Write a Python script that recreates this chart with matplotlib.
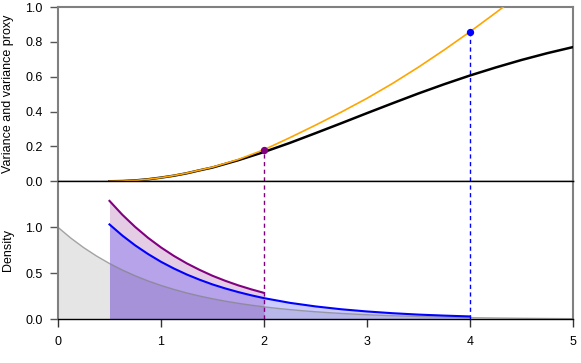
import numpy as np
import matplotlib.pyplot as plt

plt.rcParams['font.family'] = ['Liberation Sans', 'DejaVu Sans']

# upper truncation point (lower bound fixed at 0.5)
b_grid = [0.5, 0.625, 0.75, 0.875, 1.0, 1.125, 1.25, 1.375, 1.5, 1.75, 2.0, 2.25,
          2.5, 2.75, 3.0, 3.25, 3.5, 3.75, 4.0, 4.25, 4.5, 4.75, 5.0]
variance = [0.0, 0.0013, 0.005, 0.0116, 0.021, 0.032, 0.046, 0.063, 0.079, 0.121,
            0.168, 0.220, 0.276, 0.333, 0.391, 0.448, 0.504, 0.557, 0.607, 0.653,
            0.696, 0.735, 0.770]
proxy = [0.0, 0.0013, 0.005, 0.0117, 0.021, 0.033, 0.047, 0.064, 0.081, 0.125,
         0.181, 0.250, 0.322, 0.397, 0.476, 0.562, 0.655, 0.754, 0.858, 0.967,
         1.080, None, None]

# densities
x_full = [0.0, 0.125, 0.25, 0.375, 0.5, 0.625, 0.75, 0.875, 1.0, 1.125, 1.25,
          1.375, 1.5, 1.625, 1.75, 1.875, 2.0, 2.125, 2.25, 2.375, 2.5, 2.625,
          2.75, 2.875, 3.0, 3.25, 3.5, 3.75, 4.0, 4.25, 4.5, 4.75, 5.0]
dens_full = [1.0, 0.8825, 0.7788, 0.6873, 0.6065, 0.5353, 0.4724, 0.4169, 0.3679,
             0.3247, 0.2865, 0.2528, 0.2231, 0.1969, 0.1738, 0.1534, 0.1353,
             0.1194, 0.1054, 0.0930, 0.0821, 0.0724, 0.0639, 0.0564, 0.0498,
             0.0388, 0.0302, 0.0235, 0.0183, 0.0143, 0.0111, 0.0087, 0.0067]
x_purple = [0.5, 0.625, 0.75, 0.875, 1.0, 1.125, 1.25, 1.375, 1.5, 1.625, 1.75,
            1.875, 2.0]
dens_purple = [1.287, 1.136, 1.003, 0.885, 0.781, 0.689, 0.608, 0.537, 0.473,
               0.418, 0.369, 0.326, 0.287]
x_blue = [0.5, 0.625, 0.75, 0.875, 1.0, 1.125, 1.25, 1.375, 1.5, 1.625, 1.75,
          1.875, 2.0, 2.25, 2.5, 2.75, 3.0, 3.25, 3.5, 3.75, 4.0]
dens_blue = [1.031, 0.910, 0.803, 0.709, 0.625, 0.552, 0.487, 0.430, 0.379, 0.335,
             0.296, 0.261, 0.230, 0.179, 0.140, 0.109, 0.085, 0.066, 0.051,
             0.040, 0.031]

pt_purple = (2.0, 0.181)
pt_blue = (4.0, 0.858)

fig = plt.figure(figsize=(5.81, 3.63), dpi=100)
ax0 = fig.add_axes([0.0998, 0.5006, 0.8864, 0.4801])
ax1 = fig.add_axes([0.0998, 0.1204, 0.8864, 0.3802])

# top panel
ax0.plot(b_grid, variance, color='black', lw=1.8, zorder=3)
pb = [b for b, p in zip(b_grid, proxy) if p is not None]
pp = [p for p in proxy if p is not None]
ax0.plot(pb, pp, color='orange', lw=1.2, zorder=4)
ax0.plot([pt_purple[0], pt_purple[0]], [0, pt_purple[1]], color='purple',
         lw=1, ls=(0, (3, 2.5)), zorder=2)
ax0.plot([pt_blue[0], pt_blue[0]], [0, pt_blue[1]], color='blue',
         lw=1, ls=(0, (3, 2.5)), zorder=2)
ax0.scatter([pt_purple[0]], [pt_purple[1]], color='purple', s=18, zorder=5)
ax0.scatter([pt_blue[0]], [pt_blue[1]], color='blue', s=18, zorder=5)
ax0.set_xlim(0, 5)
ax0.set_ylim(0, 1)
ax0.set_yticks([0, 0.2, 0.4, 0.6, 0.8, 1.0])
ax0.set_yticklabels(['0.0', '0.2', '0.4', '0.6', '0.8', '1.0'])
ax0.set_xticks([])
ax0.set_ylabel('Variance and variance proxy', fontsize=9)
ax0.yaxis.set_label_coords(-0.085, 0.5)

# bottom panel
ax1.fill_between(x_full, 0, dens_full, color='gray', alpha=0.2, lw=0)
ax1.plot(x_full, dens_full, color='gray', alpha=0.7, lw=1)
ax1.fill_between(x_purple, 0, dens_purple, color='purple', alpha=0.2, lw=0)
ax1.fill_between(x_blue, 0, dens_blue, color='blue', alpha=0.2, lw=0)
ax1.plot(x_purple, dens_purple, color='purple', lw=1.5)
ax1.plot(x_blue, dens_blue, color='blue', lw=1.5)
ax1.axvline(pt_purple[0], color='purple', lw=1, ls=(0, (3, 2.5)))
ax1.axvline(pt_blue[0], color='blue', lw=1, ls=(0, (3, 2.5)))
ax1.set_xlim(0, 5)
ax1.set_ylim(0, 1.5)
ax1.set_yticks([0, 0.5, 1.0])
ax1.set_yticklabels(['0.0', '0.5', '1.0'])
ax1.set_xticks([0, 1, 2, 3, 4, 5])
ax1.set_ylabel('Density', fontsize=9)
ax1.yaxis.set_label_coords(-0.085, 0.5)

for ax in (ax0, ax1):
    for side in ('left', 'right', 'top'):
        ax.spines[side].set_color('gray')
        ax.spines[side].set_linewidth(1.5)
    ax.spines['bottom'].set_color('black')
    ax.spines['bottom'].set_linewidth(1)
    ax.tick_params(axis='y', length=6, width=1, color='#555555', pad=5, labelsize=9)
    ax.tick_params(axis='x', length=6, width=1, color='#333333', pad=6, labelsize=9)
# line between the panels is the y = 0 line of the top one
ax1.spines['top'].set_color('black')
ax1.spines['top'].set_linewidth(1)

fig.savefig('out.png', dpi=100)
